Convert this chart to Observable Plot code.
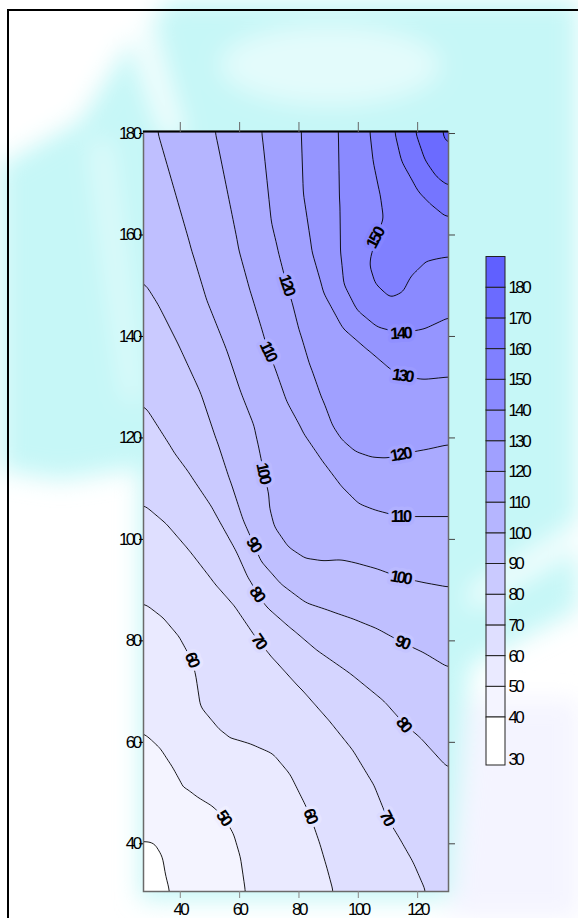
<!DOCTYPE html>
<html><head><meta charset="utf-8">
<script src="https://cdn.jsdelivr.net/npm/d3@7"></script>
<script src="https://cdn.jsdelivr.net/npm/@observablehq/plot@0.6"></script>
<style>
html,body{margin:0;padding:0;}
body{width:578px;height:918px;overflow:hidden;position:relative;background:#fff;font-family:"Liberation Sans",Arial,sans-serif;}
#bg{position:absolute;left:0;top:0;}
#frame{position:absolute;left:7px;top:9px;width:620px;height:980px;border:2px solid #000;box-sizing:border-box;}
#chart{position:absolute;left:0;top:0;}
#legend{position:absolute;left:480px;top:250px;}
#legend2{position:absolute;left:480px;top:717px;}
svg text{letter-spacing:-2.6px;}
</style></head><body>
<svg id="bg" width="578" height="918">
<defs><filter id="bl" x="-30%" y="-30%" width="160%" height="160%"><feGaussianBlur stdDeviation="12"/></filter></defs>
<rect width="578" height="918" fill="#ffffff"/>
<g filter="url(#bl)">
<path d="M0,165 L80,120 L130,40 L170,0 L578,0 L578,610 L470,665 L450,900 L140,900 L140,468 L60,480 L0,470 Z" fill="#c6f7f7"/>
<path d="M0,0 L150,0 L120,50 L70,120 L0,150 Z" fill="#ffffff"/>
<path d="M120,10 C135,60 150,100 165,140 L185,135 C170,90 160,50 150,5 Z" fill="#ffffff" opacity="0.8"/>
<path d="M90,140 C100,220 110,300 125,400 L140,400 C130,300 120,220 110,140 Z" fill="#ffffff" opacity="0.45"/>
<ellipse cx="330" cy="65" rx="110" ry="40" fill="#ffffff" opacity="0.5"/>
<path d="M578,520 L470,590 L470,610 L578,550 Z" fill="#ffffff" opacity="0.8"/>
<path d="M578,700 L470,700 L450,918 L578,918 Z" fill="#f4f4ff"/>
</g>
</svg>
<div id="frame"></div>
<div id="chart"></div>
<div id="legend"></div>
<div id="legend2"></div>
<script>
// ---- axes / scales ----
const xDomain = [27.6, 130.4];
const yDomain = [30.6, 180.4];
const xTicks = [40, 60, 80, 100, 120];
const yTicks = [40, 60, 80, 100, 120, 140, 160, 180];
const bandThresholds = [30, 40, 50, 60, 70, 80, 90, 100, 110, 120, 130, 140, 150, 160, 170, 180];
const lineLevels = [40, 50, 60, 70, 80, 90, 100, 110, 120, 130, 140, 150, 160, 170, 180];
const legendTicks = [30, 40, 50, 60, 70, 80, 90, 100, 110, 120, 130, 140, 150, 160, 170, 180];

// ---- contour lines: [x, y] on each level ----
const c40 = [[27.6,40.6],[29.9,41.3],[32.7,40.6],[33.8,38.0],[34.9,34.1],[36.4,30.6]];
const c50 = [[27.6,62.0],[33.2,59.0],[36.0,56.4],[38.9,50.2],[42.2,49.5],[46.7,49.8],[51.2,48.2],[54.6,45.2],[57.9,42.0],[60.2,37.4],[61.9,30.6]];
const c60 = [[27.6,87.6],[35.5,85.3],[41.1,81.4],[43.9,76.4],[45.0,73.5],[46.7,66.9],[51.2,61.7],[55.7,59.4],[64.7,59.4],[71.4,57.7],[77.0,53.8],[81.5,48.5],[83.8,45.6],[87.1,40.0],[89.4,35.4],[91.6,30.6]];
const c70 = [[27.6,107.0],[35.5,103.1],[43.3,97.8],[51.1,91.9],[59.1,86.6],[66.3,80.4],[71.3,76.8],[80.4,70.9],[89.4,64.9],[98.3,58.4],[105.0,51.9],[109.6,45.2],[114.4,40.6],[118.8,36.1],[122.9,30.6]];
const c80 = [[27.6,126.7],[37.6,117.5],[43.3,113.0],[51.1,106.2],[59.1,97.8],[63.6,91.9],[65.8,89.3],[69.2,86.6],[77.0,82.6],[86.0,78.1],[97.3,73.5],[108.4,68.2],[115.2,63.7],[120.9,60.9],[130.4,54.8]];
const c90 = [[27.6,151.0],[33.2,145.7],[40.0,137.8],[46.7,129.3],[52.3,119.5],[56.7,111.6],[61.1,103.7],[64.5,99.2],[66.8,95.8],[73.6,91.3],[82.7,87.3],[91.5,85.6],[99.5,84.0],[106.3,82.4],[114.7,79.7],[121.9,77.7],[130.4,74.7]];
const c100 = [[32.3,180.4],[43.9,156.9],[49.0,147.0],[55.7,137.2],[60.2,129.3],[64.6,122.8],[65.8,119.5],[68.0,113.2],[69.2,109.6],[69.6,106.2],[71.3,102.3],[75.9,98.4],[81.4,95.5],[87.1,95.7],[93.9,96.0],[99.5,95.3],[106.3,94.2],[114.1,92.5],[121.9,91.5],[130.4,90.6]];
const c110 = [[51.8,180.4],[59.9,156.9],[63.6,149.0],[68.0,140.5],[69.6,137.2],[72.0,133.8],[75.9,127.3],[81.4,121.4],[88.3,115.5],[95.0,110.3],[100.6,107.0],[106.3,105.7],[114.1,104.5],[122.0,104.5],[130.4,104.5]];
const c120 = [[67.5,180.4],[73.0,156.9],[74.7,153.0],[76.1,149.6],[77.6,147.0],[80.4,140.5],[83.8,133.8],[87.7,127.3],[91.1,122.0],[93.9,119.5],[98.4,117.2],[104.0,115.7],[109.6,115.9],[114.1,116.7],[122.0,117.6],[130.4,118.7]];
const c130 = [[80.8,180.4],[81.5,168.1],[84.4,156.9],[88.3,149.0],[95.0,141.8],[102.9,137.8],[110.7,133.9],[114.7,132.3],[122.0,131.6],[130.4,132.1]];
const c140 = [[93.3,180.4],[93.7,166.1],[93.9,156.9],[95.0,150.3],[99.5,145.1],[106.3,141.8],[114.1,140.6],[122.0,141.5],[130.4,143.8]];
const c150 = [[104.0,180.4],[105.1,174.6],[107.4,168.1],[108.5,163.5],[105.7,159.3],[103.8,155.6],[103.4,153.6],[105.1,150.3],[110.7,147.2],[115.2,148.4],[118.6,152.3],[122.0,155.9],[126.0,156.1],[130.4,155.9]];
const c160 = [[112.4,180.4],[114.7,174.6],[119.7,169.4],[125.3,166.1],[130.4,163.6]];
const c170 = [[119.1,180.4],[122.5,174.6],[126.4,171.3],[130.4,169.5]];
const c180 = [[128.6,180.4],[129.2,178.6],[130.4,177.9]];
// estimated values at the corners and inside the 150 pocket: [x, y, value]
const extraPoints = [[27.6,180.4,97.5],[27.6,30.6,36.5],[130.4,30.6,73],[130.4,180.4,183],
  [110.5,151.5,151.5],[108.0,156.0,152],[114.0,158.0,154],[120.0,160.0,156.5],[112.0,172.0,155.5],[125.0,160.0,157]];

// contour labels: level, position, angle
const labelLevels = [150,140,130,120,120,110,110,100,100,90,90,80,80,70,70,60,60,50];
const labelX = [105.7,114.1,114.7,75.9,114.1,69.6,114.1,68.0,114.1,64.7,114.7,65.8,115.2,66.4,109.6,43.9,83.8,54.6];
const labelY = [159.3,140.6,132.3,150.3,116.7,137.2,104.5,113.2,92.5,99.1,79.7,89.3,63.6,80.0,45.2,76.4,45.6,45.2];
const labelAngle = [-62,-3,8,72,-10,65,0,78,10,58,20,55,50,55,62,68,68,55];

// ---- build tables ----
const lines = [[40,c40],[50,c50],[60,c60],[70,c70],[80,c80],[90,c90],[100,c100],[110,c110],[120,c120],[130,c130],[140,c140],[150,c150],[160,c160],[170,c170],[180,c180]];
const pts = lines.flatMap(([v, c]) => c.map(([x, y]) => ({x, y, v})))
  .concat(extraPoints.map(([x, y, v]) => ({x, y, v})));
const labels = labelLevels.map((v, i) => ({v, x: labelX[i], y: labelY[i], a: labelAngle[i]}));

const colorRange = ["#ffffff", "#6060ff"];
const colorOpts = {type: "linear", domain: [30, 180], range: colorRange, interpolate: "rgb"};
const colorFn = d3.scaleLinear().domain([30, 180]).range(colorRange).interpolate(d3.interpolateRgb);

const font = '"Liberation Sans",Arial,sans-serif';

const chart = Plot.plot({
  width: 578, height: 918,
  marginLeft: 143, marginRight: 130, marginTop: 131, marginBottom: 27,
  style: {background: "transparent", fontFamily: font, fontSize: "16px", color: "#000", overflow: "visible"},
  x: {domain: xDomain, axis: null},
  y: {domain: yDomain, axis: null},
  color: colorOpts,
  marks: [
    Plot.contour(pts, {x: "x", y: "y", fill: "v", thresholds: bandThresholds, interpolate: "barycentric", blur: 3, pixelSize: 1, stroke: "none"}),
    Plot.contour(pts, {x: "x", y: "y", value: "v", thresholds: lineLevels, interpolate: "barycentric", blur: 3, pixelSize: 1, stroke: "#000", strokeWidth: 0.9, fill: "none"}),
    ...labels.map(d => Plot.text([d], {x: "x", y: "y", text: e => String(e.v), rotate: "a", fontSize: 16.5, fontWeight: "bold", fill: "#000", stroke: colorFn(d.v - 5), strokeWidth: 7, paintOrder: "stroke"})),
    Plot.frame({stroke: "#6a6a6a", strokeWidth: 1.5}),
    Plot.ruleY([yDomain[1]], {stroke: "#000", strokeWidth: 2}),
    Plot.axisX(xTicks, {anchor: "bottom", tickSize: 7, tickPadding: 4, stroke: "#888", fontSize: 17, label: null}),
    Plot.axisX(xTicks, {anchor: "top", tickSize: 10, stroke: "#666", tickFormat: () => "", label: null}),
    Plot.axisY(yTicks, {anchor: "left", tickSize: 4, tickPadding: 0, stroke: "#000", fontSize: 17, label: null}),
    Plot.axisY(yTicks, {anchor: "right", tickSize: 6, stroke: "#444", tickFormat: () => "", label: null})
  ]
});
document.getElementById("chart").appendChild(chart);

// legend: bands 40..190 on one scale, the lowest band (30-40) drawn taller as in the original
const bands = legendTicks.filter(v => v > 30).map(v => ({lo: v, hi: v + 10}));
const legendStyle = {background: "transparent", fontFamily: font, fontSize: "16px", color: "#000", overflow: "visible"};
const legend = Plot.plot({
  width: 70, height: 470, margin: 0,
  style: legendStyle,
  x: {domain: [0, 1], range: [6, 25], axis: null},
  y: {type: "linear", domain: [40, 190], range: [467, 6.5], axis: null},
  color: colorOpts,
  marks: [
    Plot.rect(bands, {x1: 0, x2: 1, y1: "lo", y2: "hi", fill: "lo", stroke: "#222", strokeWidth: 1}),
    Plot.text(legendTicks.filter(v => v > 30), {x: 1, y: d => d, text: d => String(d), textAnchor: "start", dx: 3, fontSize: 17})
  ]
});
document.getElementById("legend").appendChild(legend);
const legend2 = Plot.plot({
  width: 70, height: 50, margin: 0,
  style: legendStyle,
  x: {domain: [0, 1], range: [6, 25], axis: null},
  y: {type: "linear", domain: [30, 40], range: [48, 0], axis: null},
  color: colorOpts,
  marks: [
    Plot.rect([{lo: 30, hi: 40}], {x1: 0, x2: 1, y1: "lo", y2: "hi", fill: "lo", stroke: "#222", strokeWidth: 1}),
    Plot.text([30], {x: 1, y: d => d, text: d => String(d), textAnchor: "start", dx: 3, dy: -6, fontSize: 17})
  ]
});
document.getElementById("legend2").appendChild(legend2);
</script>
</body></html>
